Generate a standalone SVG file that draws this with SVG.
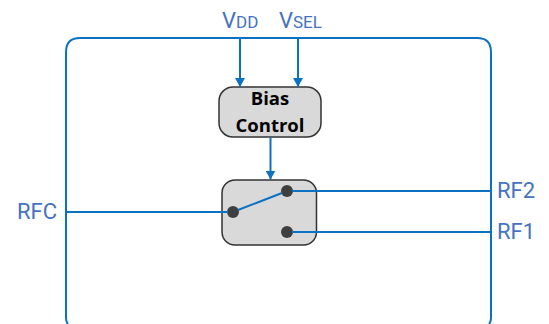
<svg xmlns="http://www.w3.org/2000/svg" width="549" height="324" viewBox="0 0 549 324">
<style>
.w{fill:none;stroke:#0b71c3;stroke-width:2}
.l{font-family:"Roboto","Liberation Sans",sans-serif;fill:#4472c4;font-size:22px}
.s{font-size:17px}
.b{font-family:"Open Sans","Liberation Sans",sans-serif;font-weight:700;font-size:18.5px;fill:#000;text-anchor:middle}
.box{fill:#d9d9d9;stroke:#333;stroke-width:1.5}
.dot{fill:#3f3f3f}
</style>
<defs><marker id="a" markerUnits="userSpaceOnUse" markerWidth="10" markerHeight="10" refX="9" refY="5" orient="auto"><path d="M0 0L9 5L0 10Z" fill="#0b71c3"/></marker></defs>
<rect width="549" height="324" fill="#fff"/>
<g id="chip"><path class="w" d="M68 324Q66 322 66 318V52Q66 38 80 38H477Q491 38 491 52V318Q491 322 489 324"/></g>
<g id="bias"><rect class="box" x="219" y="87" width="102" height="50" rx="14"/>
<text class="b" x="270" y="105">Bias</text><text class="b" x="270" y="132">Control</text></g>
<g id="switch"><rect class="box" x="222" y="180" width="94.500" height="65" rx="13"/>
<circle class="dot" cx="233" cy="212" r="6"/><circle class="dot" cx="287" cy="191" r="6"/><circle class="dot" cx="287" cy="232" r="6"/></g>
<g id="connectors">
<path class="w" d="M240 38V87" marker-end="url(#a)"/>
<path class="w" d="M298 38V87" marker-end="url(#a)"/>
<path class="w" d="M270.500 137V179.500" marker-end="url(#a)"/>
<path class="w" d="M66 212H228"/>
<path class="w" d="M238 210L282 193"/>
<path class="w" d="M292 191H491"/>
<path class="w" d="M292 232H491"/>
</g>
<g id="labels">
<text class="l" x="222" y="28">V<tspan class="s">DD</tspan></text>
<text class="l" x="279" y="28">V<tspan class="s">SEL</tspan></text>
<text class="l" x="17" y="219">RFC</text>
<text class="l" x="497" y="198">RF2</text>
<text class="l" x="497" y="239">RF1</text>
</g>
</svg>
